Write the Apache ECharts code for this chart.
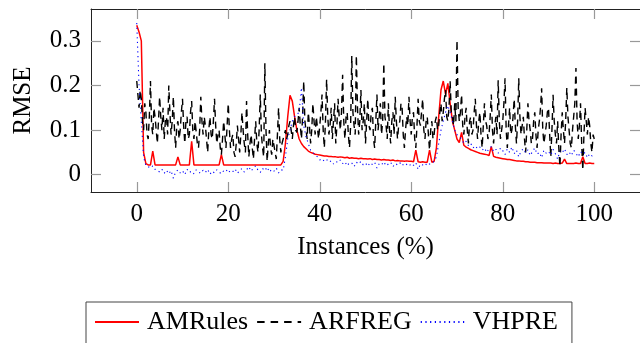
<!DOCTYPE html>
<html>
<head>
<meta charset="utf-8">
<script src="https://cdn.jsdelivr.net/npm/echarts@6/dist/echarts.min.js"></script>
<style>html,body{margin:0;padding:0;background:#fff;}#c{width:640px;height:343px;}</style>
</head>
<body>
<div id="c"></div>
<script>
// Instance percentage step between samples
const step = 0.5;
const arfregStep = 0.25;
const xTicks = [0, 20, 40, 60, 80, 100];
const yTicks = [0, 0.1, 0.2, 0.3];
const seriesNames = ['AMRules', 'ARFREG', 'VHPRE'];

const amrules = [
  0.335,0.32,0.30,0.05,0.025,0.022,0.022,0.053,0.022,0.022,
  0.022,0.022,0.022,0.022,0.022,0.022,0.022,0.022,0.04,0.022,
  0.022,0.022,0.022,0.022,0.075,0.022,0.022,0.022,0.022,0.022,
  0.022,0.022,0.022,0.022,0.022,0.022,0.022,0.045,0.022,0.022,
  0.022,0.022,0.022,0.022,0.022,0.022,0.022,0.022,0.022,0.022,
  0.022,0.022,0.022,0.022,0.022,0.022,0.022,0.022,0.022,0.022,
  0.022,0.022,0.022,0.022,0.03,0.07,0.13,0.178,0.165,0.13,
  0.10,0.08,0.07,0.063,0.058,0.053,0.05,0.048,0.046,0.045,
  0.044,0.043,0.042,0.042,0.041,0.041,0.04,0.04,0.039,0.04,
  0.039,0.038,0.039,0.037,0.038,0.037,0.037,0.036,0.037,0.036,
  0.036,0.035,0.036,0.034,0.035,0.034,0.034,0.033,0.034,0.033,
  0.033,0.032,0.033,0.031,0.032,0.031,0.031,0.03,0.031,0.03,
  0.03,0.029,0.055,0.029,0.028,0.029,0.028,0.028,0.055,0.028,
  0.03,0.06,0.13,0.19,0.21,0.18,0.205,0.16,0.12,0.10,
  0.08,0.072,0.095,0.066,0.062,0.059,0.056,0.054,0.052,0.05,
  0.048,0.047,0.046,0.045,0.043,0.063,0.041,0.039,0.038,0.037,
  0.036,0.035,0.034,0.034,0.033,0.032,0.031,0.031,0.03,0.03,
  0.029,0.029,0.028,0.028,0.028,0.027,0.027,0.027,0.026,0.026,
  0.026,0.026,0.025,0.026,0.025,0.025,0.026,0.035,0.025,0.025,
  0.025,0.025,0.026,0.025,0.025,0.04,0.025,0.025,0.026,0.025,
  0.025
];

const arfreg = [
  0.21,0.18,0.15,0.19,0.17,0.12,0.10,0.16,0.14,0.09,0.08,0.13,0.21,0.11,0.09,0.15,0.13,0.10,0.07,0.12,
  0.175,0.13,0.10,0.15,0.08,0.12,0.13,0.09,0.20,0.14,0.09,0.12,0.175,0.10,0.06,0.11,0.12,0.08,0.10,0.14,
  0.17,0.11,0.07,0.12,0.13,0.08,0.09,0.14,0.165,0.10,0.08,0.12,0.12,0.07,0.06,0.10,0.175,0.12,0.09,0.13,
  0.11,0.08,0.05,0.10,0.13,0.09,0.08,0.12,0.17,0.11,0.07,0.09,0.10,0.06,0.045,0.08,0.12,0.09,0.06,0.11,
  0.16,0.10,0.06,0.08,0.09,0.05,0.04,0.07,0.11,0.08,0.05,0.09,0.14,0.10,0.07,0.05,0.165,0.09,0.04,0.07,
  0.09,0.06,0.035,0.08,0.12,0.07,0.05,0.10,0.18,0.09,0.06,0.04,0.25,0.10,0.03,0.07,0.10,0.06,0.045,0.08,
  0.08,0.05,0.035,0.09,0.15,0.08,0.05,0.07,0.07,0.09,0.10,0.08,0.09,0.11,0.12,0.10,0.08,0.11,0.13,0.10,
  0.095,0.12,0.15,0.11,0.08,0.13,0.21,0.12,0.10,0.08,0.14,0.11,0.07,0.10,0.16,0.12,0.09,0.13,0.13,0.08,
  0.11,0.14,0.18,0.10,0.06,0.12,0.214,0.13,0.09,0.11,0.15,0.08,0.12,0.16,0.07,0.11,0.17,0.13,0.10,0.14,
  0.224,0.12,0.08,0.13,0.14,0.09,0.06,0.11,0.266,0.14,0.11,0.09,0.268,0.15,0.09,0.12,0.19,0.10,0.12,0.16,
  0.07,0.12,0.17,0.11,0.10,0.14,0.15,0.08,0.06,0.12,0.18,0.10,0.13,0.16,0.09,0.12,0.25,0.13,0.11,0.08,
  0.16,0.10,0.07,0.12,0.14,0.09,0.175,0.12,0.08,0.11,0.12,0.16,0.15,0.09,0.06,0.10,0.13,0.11,0.175,0.12,
  0.09,0.13,0.14,0.08,0.06,0.11,0.17,0.12,0.11,0.14,0.17,0.10,0.08,0.12,0.13,0.09,0.055,0.10,0.12,0.08,
  0.09,0.12,0.13,0.10,0.11,0.14,0.16,0.12,0.14,0.17,0.19,0.13,0.12,0.15,0.21,0.14,0.13,0.11,0.16,0.12,
  0.302,0.15,0.12,0.14,0.18,0.11,0.09,0.13,0.15,0.10,0.07,0.12,0.13,0.09,0.10,0.14,0.17,0.11,0.08,0.12,
  0.14,0.09,0.06,0.11,0.16,0.12,0.11,0.08,0.09,0.13,0.18,0.10,0.07,0.11,0.13,0.09,0.212,0.12,0.08,0.10,
  0.12,0.16,0.216,0.10,0.06,0.11,0.15,0.09,0.10,0.13,0.17,0.11,0.07,0.12,0.216,0.13,0.09,0.11,0.13,0.08,
  0.05,0.10,0.16,0.12,0.10,0.07,0.08,0.12,0.14,0.09,0.06,0.10,0.12,0.15,0.194,0.10,0.07,0.09,0.11,0.14,
  0.15,0.09,0.04,0.10,0.179,0.12,0.09,0.07,0.12,0.06,0.018,0.09,0.14,0.10,0.07,0.12,0.195,0.13,0.10,0.07,
  0.06,0.10,0.13,0.16,0.239,0.12,0.08,0.11,0.16,0.07,0.01,0.09,0.15,0.12,0.09,0.13,0.11,0.07,0.05,0.09,
  0.08
];

const vhpre = [
  0.34,0.20,0.12,0.04,0.02,0.018,0.015,0.02,0.012,0.01,
  0.006,0.012,0.003,0.01,0.002,0.009,-0.008,0.006,0.011,0.004,
  0.009,0.0,0.012,0.005,0.008,0.002,0.011,0.006,0.003,0.01,
  0.005,0.012,0.001,0.008,0.004,0.011,0.006,0.002,0.009,0.012,
  0.004,0.01,0.007,0.013,0.003,0.009,0.014,0.006,0.011,0.018,
  0.008,0.015,0.02,0.01,0.005,0.014,0.009,0.017,0.006,0.012,
  0.008,0.015,0.004,0.011,0.01,0.04,0.08,0.1,0.12,0.13,
  0.135,0.14,0.195,0.11,0.085,0.07,0.055,0.05,0.045,0.04,
  0.033,0.036,0.03,0.034,0.028,0.031,0.024,0.03,0.027,0.033,
  0.025,0.029,0.02,0.027,0.026,0.018,0.028,0.024,0.03,0.022,
  0.026,0.019,0.027,0.023,0.028,0.015,0.025,0.022,0.029,0.02,
  0.024,0.028,0.018,0.025,0.022,0.027,0.02,0.026,0.023,0.019,
  0.025,0.021,0.027,0.012,0.024,0.022,0.026,0.02,0.024,0.025,
  0.03,0.04,0.07,0.1,0.12,0.14,0.155,0.14,0.12,0.1,
  0.09,0.085,0.08,0.07,0.075,0.065,0.07,0.06,0.065,0.058,
  0.062,0.055,0.06,0.05,0.058,0.063,0.052,0.057,0.048,0.06,
  0.054,0.045,0.058,0.05,0.062,0.047,0.055,0.04,0.053,0.058,
  0.049,0.056,0.043,0.052,0.06,0.046,0.05,0.038,0.055,0.048,
  0.052,0.044,0.057,0.047,0.035,0.053,0.049,0.058,0.045,0.051,
  0.043,0.055,0.048,0.04,0.052,0.046,0.05,0.038,0.047,0.042,
  0.045
];

function pairs(arr, dx) { return arr.map((v, i) => [i * dx, v]); }

const FONT = 'Liberation Serif';
const frame = { show: true, onZero: false, lineStyle: { color: '#222', width: 1 } };
const tick = (vals) => ({ show: true, inside: true, length: 10, customValues: vals, lineStyle: { color: '#999', width: 1.2 } });

const chart = echarts.init(document.getElementById('c'), null, { renderer: 'canvas' });
chart.setOption({
  animation: false,
  backgroundColor: '#fff',
  grid: { left: 91, top: 9, width: 551, height: 183, containLabel: false },
  legend: {
    data: [
      { name: seriesNames[0] },
      { name: seriesNames[1], lineStyle: { type: [7.5, 6] } },
      { name: seriesNames[2] }
    ],
    left: 86, top: 302,
    orient: 'horizontal',
    borderColor: '#444', borderWidth: 1,
    padding: [7, 14, 40, 8],
    itemGap: 8, itemWidth: 44, itemHeight: 14,
    itemStyle: { opacity: 0 },
    textStyle: { fontFamily: FONT, fontSize: 26, color: '#000', padding: [0, 0, 0, 3] }
  },
  xAxis: [
    {
      type: 'value', min: -10, max: 110, position: 'bottom',
      axisLine: frame, axisTick: tick(xTicks),
      axisLabel: { customValues: xTicks, fontFamily: FONT, fontSize: 25, color: '#000', margin: 10 },
      splitLine: { show: false },
      name: 'Instances (%)', nameLocation: 'middle', nameGap: 43,
      nameTextStyle: { fontFamily: FONT, fontSize: 25, color: '#000' }
    },
    {
      type: 'value', min: -10, max: 110, position: 'top',
      axisLine: frame, axisTick: tick(xTicks),
      axisLabel: { show: false }, splitLine: { show: false }
    }
  ],
  yAxis: [
    {
      type: 'value', min: -0.0388, max: 0.3716, position: 'left',
      axisLine: frame, axisTick: tick(yTicks),
      axisLabel: { customValues: yTicks, fontFamily: FONT, fontSize: 25, color: '#000', margin: 10 },
      splitLine: { show: false },
      name: 'RMSE', nameLocation: 'middle', nameGap: 55,
      nameTextStyle: { fontFamily: FONT, fontSize: 25, color: '#000' }
    },
    {
      type: 'value', min: -0.0388, max: 0.3716, position: 'right',
      axisLine: frame, axisTick: tick(yTicks),
      axisLabel: { show: false }, splitLine: { show: false }
    }
  ],
  series: [
    {
      name: seriesNames[0], type: 'line', data: pairs(amrules, step), symbol: 'none', showSymbol: false,
      lineStyle: { color: '#ff0000', width: 1.5 }, itemStyle: { color: '#ff0000' }, z: 2
    },
    {
      name: seriesNames[1], type: 'line', data: pairs(arfreg, arfregStep), symbol: 'none', showSymbol: false,
      lineStyle: { color: '#000', width: 1.4, type: [7, 5] }, itemStyle: { color: '#000' }, z: 3
    },
    {
      name: seriesNames[2], type: 'line', data: pairs(vhpre, step), symbol: 'none', showSymbol: false,
      lineStyle: { color: '#0000ff', width: 1.1, type: [1.2, 3.5] }, itemStyle: { color: '#0000ff' }, z: 4
    }
  ]
});
</script>
</body>
</html>
